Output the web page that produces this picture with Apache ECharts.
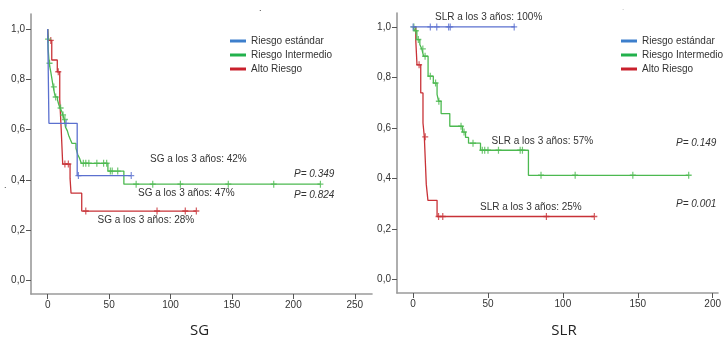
<!DOCTYPE html>
<html>
<head>
<meta charset="utf-8">
<script src="https://cdn.jsdelivr.net/npm/echarts@6/dist/echarts.min.js"></script>
<style>html,body{margin:0;padding:0;background:#fff}#c{width:724px;height:338px}</style>
</head>
<body>
<div id="c"></div>
<script>
// ---- Data (Kaplan-Meier steps: [time in months, survival]) ----
var seriesNames = ['Riesgo estándar', 'Riesgo Intermedio', 'Alto Riesgo'];
var yTicks = [0, 0.2, 0.4, 0.6, 0.8, 1.0];
var sgXTicks = [0, 50, 100, 150, 200, 250];
var slrXTicks = [0, 50, 100, 150, 200];

// SG panel
var sgStdSteps = [[0,1],[1,0.625],[24,0.417],[68,0.417]];
var sgStdCens = [15, 25, 68];
var sgIntSteps = [[0,1],[0.2,0.96],[0.4,0.92],[1.2,0.864],[2.5,0.83],[3.5,0.80],[4.5,0.77],[5.5,0.745],[6.2,0.73],[8,0.718],[9,0.70],[10,0.686],[11.5,0.672],[12.3,0.658],[13.5,0.64],[14.5,0.61],[16,0.595],[17,0.578],[18.5,0.56],[19.8,0.545],[23,0.526],[24.5,0.50],[26,0.485],[27.3,0.466],[49,0.435],[62,0.383],[222,0.383]];
var sgIntCens = [0.3, 1.5, 5, 6.5, 10.5, 12.5, 14, 29, 31, 33.5, 40, 45.5, 48, 51, 52.5, 57, 72, 85.5, 108, 147, 184, 222];
var sgHighSteps = [[0,1],[0.5,0.955],[3.3,0.877],[7.8,0.83],[9.8,0.72],[11,0.6],[12.2,0.463],[18.2,0.406],[19,0.347],[27.7,0.276],[121,0.276]];
var sgHighCens = [2.5, 8.6, 14, 16.8, 31, 89, 112, 121];

// SLR panel
var slrStdSteps = [[0,1],[68,1]];
var slrStdCens = [0, 11.5, 15.8, 23.7, 24.8, 67.5];
var slrIntSteps = [[0,1],[1,0.985],[2.5,0.95],[4.5,0.93],[5.8,0.913],[7,0.884],[10,0.805],[13.5,0.778],[16,0.733],[17,0.706],[18.7,0.657],[24.5,0.607],[33,0.584],[35,0.563],[37,0.54],[45,0.512],[77,0.413],[184,0.413]];
var slrIntCens = [0.5, 1.8, 3.5, 6.5, 8, 11.5, 15, 17.2, 32, 34, 40, 46.2, 47.8, 50, 57, 71.5, 73, 85.4, 108.2, 146.7, 184];
var slrHighSteps = [[0,1],[1.8,0.945],[2.6,0.85],[5.1,0.739],[6.6,0.62],[7.5,0.565],[8.3,0.45],[8.8,0.377],[9.9,0.314],[16,0.25],[121,0.25]];
var slrHighCens = [4, 8.1, 17, 19.8, 89, 121];

// ---- Styles ----
var lineColors = ['#5b70cf', '#4cb950', '#c83237'];
var legendColors = ['#3d7fcc', '#22b14c', '#c9202c'];
var axisColor = '#9a9a9a';
var FONT = 'Liberation Sans, Arial, sans-serif';
var plusPath = 'path://M-0.6,-3L0.6,-3L0.6,-0.6L3,-0.6L3,0.6L0.6,0.6L0.6,3L-0.6,3L-0.6,0.6L-3,0.6L-3,-0.6L-0.6,-0.6Z';

function survAt(steps, t) {
  var s = steps[0][1];
  for (var i = 0; i < steps.length; i++) { if (steps[i][0] <= t) s = steps[i][1]; }
  return s;
}
function censData(steps, cens) { return cens.map(function (t) { return [t, survAt(steps, t)]; }); }

var series = [];
function addPanel(idx, stepsList, censList) {
  stepsList.forEach(function (steps, k) {
    series.push({
      name: seriesNames[k], type: 'line', step: 'end', xAxisIndex: idx, yAxisIndex: idx,
      data: steps, showSymbol: false, symbol: 'none', z: 3 - k + 2,
      lineStyle: { color: lineColors[k], width: 1.3 }, itemStyle: { color: lineColors[k] }
    });
    series.push({
      name: seriesNames[k] + ' censurado', type: 'scatter', xAxisIndex: idx, yAxisIndex: idx,
      data: censData(steps, censList[k]), symbol: plusPath, symbolSize: [6, 7], z: 3 - k + 2,
      itemStyle: { color: lineColors[k] }
    });
  });
}
addPanel(0, [sgStdSteps, sgIntSteps, sgHighSteps], [sgStdCens, sgIntCens, sgHighCens]);
addPanel(1, [slrStdSteps, slrIntSteps, slrHighSteps], [slrStdCens, slrIntCens, slrHighCens]);

function xAxisCfg(idx, min, max, ticks) {
  return {
    type: 'value', gridIndex: idx, min: min, max: max, splitLine: { show: false },
    axisLine: { show: true, onZero: false, lineStyle: { color: axisColor, width: 1.6 } },
    axisTick: { show: true, customValues: ticks, length: 5, lineStyle: { color: '#555', width: 1 } },
    axisLabel: { customValues: ticks, margin: 6, fontSize: 10, color: '#333', fontFamily: FONT }
  };
}
function yAxisCfg(idx, min, max) {
  return {
    type: 'value', gridIndex: idx, min: min, max: max, splitLine: { show: false },
    axisLine: { show: true, onZero: false, lineStyle: { color: axisColor, width: 1.6 } },
    axisTick: { show: true, customValues: yTicks, length: 5, lineStyle: { color: '#555', width: 1 } },
    axisLabel: { customValues: yTicks, margin: 6, fontSize: 10, color: '#333', fontFamily: FONT,
      formatter: function (v) { return v.toFixed(1).replace('.', ','); } }
  };
}

function legendCfg(left) {
  return {
    orient: 'vertical', left: left, top: 30, icon: 'rect', itemWidth: 16, itemHeight: 3, itemGap: 2,
    selectedMode: false,
    textStyle: { fontSize: 10, color: '#333', fontFamily: FONT, lineHeight: 12 },
    data: seriesNames.map(function (n, i) { return { name: n, itemStyle: { color: legendColors[i] } }; })
  };
}

function txt(x, y, s, opts) {
  opts = opts || {};
  return { type: 'text', x: x, y: y, z: 10, style: {
    text: s, fill: opts.fill || '#333', fontSize: opts.size || 10, fontFamily: opts.family || FONT,
    fontStyle: opts.italic ? 'italic' : 'normal', align: opts.align || 'left', verticalAlign: 'middle' } };
}

var chart = echarts.init(document.getElementById('c'), null, { renderer: 'canvas' });
chart.setOption({
  animation: false,
  backgroundColor: '#fff',
  grid: [
    { left: 31, right: 352, top: 14, bottom: 44 },
    { left: 397, right: 2, top: 13, bottom: 45 }
  ],
  xAxis: [xAxisCfg(0, -13.6, 264, sgXTicks), xAxisCfg(1, -10.75, 203.6, slrXTicks)],
  yAxis: [yAxisCfg(0, -0.054, 1.06), yAxisCfg(1, -0.0526, 1.055)],
  legend: [legendCfg(225), legendCfg(616)],
  series: series,
  graphic: [
    txt(150, 159, 'SG a los 3 años: 42%'),
    txt(138, 193.5, 'SG a los 3 años: 47%'),
    txt(97.5, 220, 'SG a los 3 años: 28%'),
    txt(294, 174, 'P= 0.349', { italic: true }),
    txt(294, 195, 'P= 0.824', { italic: true }),
    txt(435, 17, 'SLR a los 3 años: 100%'),
    txt(491.5, 141, 'SLR a los 3 años: 57%'),
    txt(480, 207, 'SLR a los 3 años: 25%'),
    txt(676, 143, 'P= 0.149', { italic: true }),
    txt(676, 204, 'P= 0.001', { italic: true }),
    txt(199.5, 331, 'SG', { size: 15, family: 'Open Sans, sans-serif', fill: '#222', align: 'center' }),
    txt(564, 331, 'SLR', { size: 15, family: 'Open Sans, sans-serif', fill: '#222', align: 'center' }),
    txt(4, 186, '.', { size: 9 }),
    txt(259, 9, '.', { size: 9 }),
    txt(622, 8, '.', { size: 8, fill: '#aaa' })
  ]
});
</script>
</body>
</html>
